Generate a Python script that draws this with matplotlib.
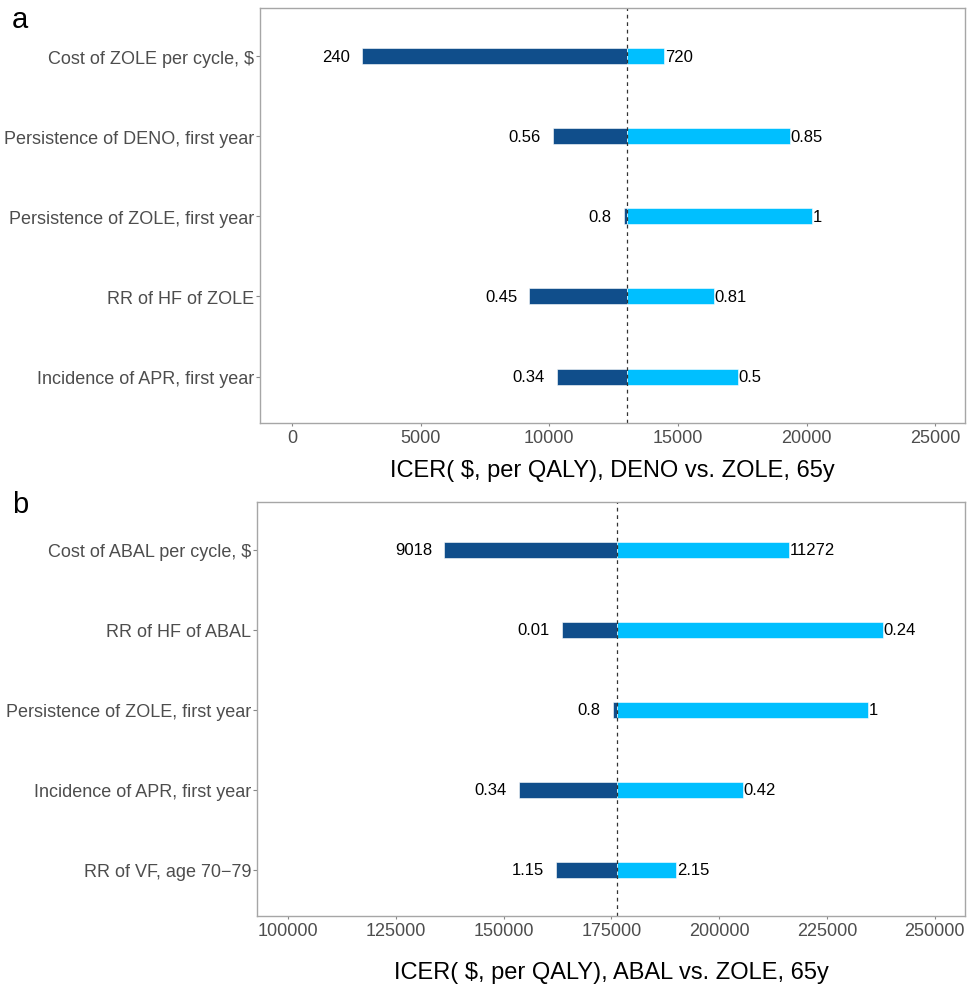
import matplotlib
matplotlib.use("Agg")
import matplotlib.pyplot as plt

plt.rcParams['font.family'] = ['Liberation Sans', 'DejaVu Sans']

# Panel a
a_params = ["Cost of ZOLE per cycle, $", "Persistence of DENO, first year",
            "Persistence of ZOLE, first year", "RR of HF of ZOLE",
            "Incidence of APR, first year"]
a_low = [2720, 10150, 12900, 9220, 10300]
a_high = [14460, 19360, 20220, 16410, 17340]
a_low_lab = ["240", "0.56", "0.8", "0.45", "0.34"]
a_high_lab = ["720", "0.85", "1", "0.81", "0.5"]
a_base = 13020
a_ticks = [0, 5000, 10000, 15000, 20000, 25000]
a_xlabel = "ICER( $, per QALY), DENO vs. ZOLE, 65y"

# Panel b
b_params = ["Cost of ABAL per cycle, $", "RR of HF of ABAL",
            "Persistence of ZOLE, first year", "Incidence of APR, first year",
            "RR of VF, age 70\u221279"]
b_low = [136200, 163500, 175300, 153600, 162100]
b_high = [216200, 238000, 234500, 205500, 190000]
b_low_lab = ["9018", "0.01", "0.8", "0.34", "1.15"]
b_high_lab = ["11272", "0.24", "1", "0.42", "2.15"]
b_base = 176250
b_ticks = [100000, 125000, 150000, 175000, 200000, 225000, 250000]
b_xlabel = "ICER( $, per QALY), ABAL vs. ZOLE, 65y"

DARK = "#104E8B"
LIGHT = "#00BFFF"

W, H = 972, 987
fig = plt.figure(figsize=(W / 100, H / 100), dpi=100)


def panel(rect, params, low, high, low_lab, high_lab, base, ticks, xlim, xlabel, letter, letter_y, xpad, lpad):
    ax = fig.add_axes(rect)
    n = len(params)
    ys = list(range(n, 0, -1))
    span = xlim[1] - xlim[0]
    for y, lo, hi, ll, hl in zip(ys, low, high, low_lab, high_lab):
        ax.barh(y, lo - base, left=base, height=0.2, color=DARK, edgecolor='white', linewidth=0.4)
        ax.barh(y, hi - base, left=base, height=0.2, color=LIGHT, edgecolor='white', linewidth=0.4)
        ax.text(lo - span * 0.017, y, ll, ha='right', va='center', fontsize=12, color='black')
        ax.text(hi + span * 0.001, y, hl, ha='left', va='center', fontsize=12, color='black')
    ax.axvline(base, color='#333333', linestyle=(0, (3, 3)), linewidth=0.9)
    ax.set_xlim(xlim)
    ax.set_ylim(0.42, n + 0.6)
    ax.set_yticks(ys)
    ax.set_yticklabels(params, fontsize=13, color='#4D4D4D')
    ax.set_xticks(ticks)
    ax.set_xticklabels([str(t) for t in ticks], fontsize=13, color='#4D4D4D')
    ax.tick_params(axis='y', length=3, color='#888888', width=0.8, pad=1)
    ax.tick_params(axis='x', length=2, color='#888888', width=0.8, pad=xpad)
    ax.set_xlabel(xlabel, fontsize=17, color='black', labelpad=lpad)
    for s in ax.spines.values():
        s.set_color('#A6A6A6')
        s.set_linewidth(1.0)
    fig.text(12 / W, letter_y, letter, fontsize=21, color='black', va='center', ha='left')
    return ax


panel([260 / W, 1 - 424 / H, 705 / W, 415 / H], a_params, a_low, a_high, a_low_lab, a_high_lab,
      a_base, a_ticks, (-1240, 26160), a_xlabel, "a", 1 - 20 / H, 2, 10)
panel([257 / W, 1 - 917 / H, 708 / W, 414 / H], b_params, b_low, b_high, b_low_lab, b_high_lab,
      b_base, b_ticks, (92800, 257000), b_xlabel, "b", 1 - 505 / H, 2, 16)

fig.savefig("out.png", dpi=100)
